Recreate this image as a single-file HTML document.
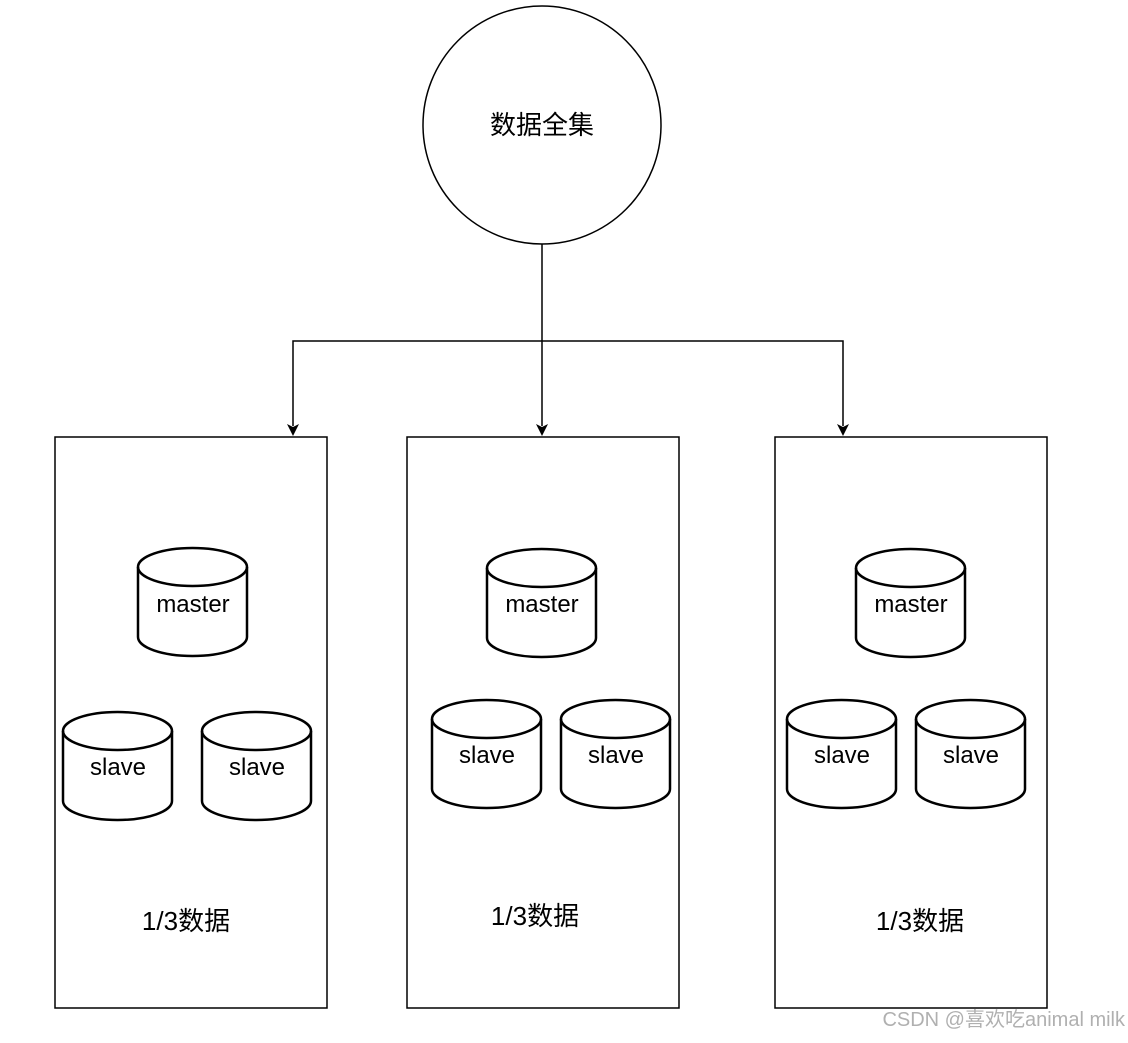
<!DOCTYPE html>
<html><head><meta charset="utf-8"><style>
body{margin:0;background:#fff;}
svg text{font-family:"Liberation Sans","Noto Sans CJK SC",sans-serif;}
</style></head><body>
<svg width="1128" height="1038" viewBox="0 0 1128 1038" xmlns="http://www.w3.org/2000/svg">
<defs>
<marker id="a" markerWidth="10" markerHeight="12" refX="5" refY="11" orient="auto-start-reverse" markerUnits="userSpaceOnUse" viewBox="0 0 10 12">
</marker>
<g id="cyl">
<path d="M0,19 A54.5,19 0 0 1 109,19 L109,89 A54.5,19 0 0 1 0,89 Z" fill="#fff" stroke="#000" stroke-width="2.5"/>
<path d="M0,19 A54.5,19 0 0 0 109,19" fill="none" stroke="#000" stroke-width="2.5"/>
</g>
</defs>
<circle cx="542" cy="125" r="119" fill="#fff" stroke="#000" stroke-width="1.5"/>
<text x="542" y="134" font-size="26" text-anchor="middle">数据全集</text>
<g stroke="#000" stroke-width="1.5" fill="none">
<path d="M542,244 V426"/>
<path d="M293,426 V341 H843 V426"/>
</g>
<g fill="#000">
<path d="M287,424 L293,436 L299,424 L293,427 Z"/>
<path d="M536,424 L542,436 L548,424 L542,427 Z"/>
<path d="M837,424 L843,436 L849,424 L843,427 Z"/>
</g>
<g fill="#fff" stroke="#000" stroke-width="1.5">
<rect x="55" y="437" width="272" height="571"/>
<rect x="407" y="437" width="272" height="571"/>
<rect x="775" y="437" width="272" height="571"/>
</g>
<use href="#cyl" x="138" y="548"/>
<use href="#cyl" x="63" y="712"/>
<use href="#cyl" x="202" y="712"/>
<use href="#cyl" x="487" y="549"/>
<use href="#cyl" x="432" y="700"/>
<use href="#cyl" x="561" y="700"/>
<use href="#cyl" x="856" y="549"/>
<use href="#cyl" x="787" y="700"/>
<use href="#cyl" x="916" y="700"/>
<g font-size="24" text-anchor="middle">
<text x="193" y="612">master</text>
<text x="118" y="775">slave</text>
<text x="257" y="775">slave</text>
<text x="542" y="612">master</text>
<text x="487" y="763">slave</text>
<text x="616" y="763">slave</text>
<text x="911" y="612">master</text>
<text x="842" y="763">slave</text>
<text x="971" y="763">slave</text>
<text x="186" y="930" font-size="26">1/3数据</text>
<text x="535" y="925" font-size="26">1/3数据</text>
<text x="920" y="930" font-size="26">1/3数据</text>
</g>
<text x="1125" y="1026" font-size="20" text-anchor="end" fill="#b0b0b0">CSDN @喜欢吃animal milk</text>
</svg>
</body></html>
